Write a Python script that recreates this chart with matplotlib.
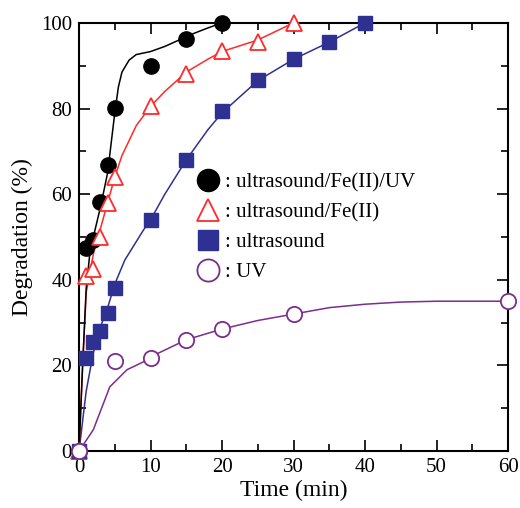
import matplotlib
matplotlib.use("Agg")
import matplotlib.pyplot as plt
from matplotlib.ticker import MultipleLocator

plt.rcParams["font.family"] = ["Liberation Serif", "DejaVu Serif"]

# measured points
t_sfu = [0, 1, 2, 3, 4, 5, 10, 15, 20]
d_sfu = [0, 47.5, 49.3, 58.2, 66.8, 80.1, 90.0, 96.3, 100]
t_sf = [0, 1, 2, 3, 4, 5, 10, 15, 20, 25, 30]
d_sf = [0, 41.0, 42.5, 50.0, 58.0, 64.0, 80.5, 88.0, 93.5, 95.5, 100]
t_s = [0, 1, 2, 3, 4, 5, 10, 15, 20, 25, 30, 35, 40]
d_s = [0, 21.7, 25.5, 28.0, 32.2, 38.0, 54.0, 68.0, 79.5, 86.7, 91.5, 95.5, 100]
t_uv = [0, 5, 10, 15, 20, 30, 60]
d_uv = [0, 21.0, 21.8, 26.0, 28.5, 32.0, 35.0]

# fitted curves
ct_sfu = [0, 0.5, 1, 1.5, 2, 3, 4, 4.5, 5, 5.5, 6, 7, 8, 10, 12, 14, 16, 18, 20]
cd_sfu = [0, 20, 38, 46, 50, 57, 65, 72, 79, 85, 88.5, 91.3, 92.6, 93.3, 94.5, 96, 97.5, 98.8, 100]
ct_sf = [0, 0.5, 1, 2, 3, 4, 5, 6, 8, 10, 12, 15, 18, 20, 25, 30]
cd_sf = [0, 20, 37, 46, 52, 58, 64, 69, 76, 80.5, 84, 88.5, 91.5, 93.3, 96, 100]
ct_s = [0, 1, 2, 3, 4, 5, 6.4, 9, 10, 12, 15, 18, 20, 25, 30, 35, 40]
cd_s = [0, 14, 23, 29, 33.5, 39, 44.6, 51.6, 54, 60, 68, 75, 79, 86.5, 91.5, 95.5, 100]
ct_uv = [0, 2, 4.3, 6.7, 9.2, 10, 15, 20, 25, 30, 35, 40, 45, 50, 60]
cd_uv = [0, 5, 15, 19, 21, 22, 26, 28.5, 30.5, 32, 33.5, 34.3, 34.8, 35, 35]

labels = [": ultrasound/Fe(II)/UV", ": ultrasound/Fe(II)", ": ultrasound", ": UV"]

c_black = "#000000"
c_red = "#FF2A2A"
c_blue = "#2E3192"
c_purple = "#7B2D8E"

fig = plt.figure(figsize=(5.2, 5.08), dpi=100)
ax = fig.add_axes([0.152, 0.112, 0.825, 0.843])

ax.plot(ct_uv, cd_uv, color=c_purple, lw=1.1, zorder=2)
ax.plot(ct_s, cd_s, color=c_blue, lw=1.1, zorder=2)
ax.plot(ct_sf, cd_sf, color=c_red, lw=1.1, zorder=2)
ax.plot(ct_sfu, cd_sfu, color=c_black, lw=1.1, zorder=2)

h1, = ax.plot(t_sfu, d_sfu, "o", color=c_black, ms=11, ls="none", zorder=3, clip_on=False)
h2, = ax.plot(t_sf, d_sf, "^", mfc="white", mec=c_red, mew=1.3, ms=11, ls="none", zorder=3, clip_on=False)
h3, = ax.plot(t_s, d_s, "s", color=c_blue, ms=10, ls="none", zorder=3, clip_on=False)
h4, = ax.plot(t_uv, d_uv, "o", mfc="white", mec=c_purple, mew=1.3, ms=11, ls="none", zorder=4, clip_on=False)

ax.set_xlim(0, 60)
ax.set_ylim(0, 100)
ax.xaxis.set_major_locator(MultipleLocator(10))
ax.xaxis.set_minor_locator(MultipleLocator(5))
ax.yaxis.set_major_locator(MultipleLocator(20))
ax.yaxis.set_minor_locator(MultipleLocator(10))
ax.tick_params(which="both", direction="in", top=True, right=True, labelsize=15, width=1.2)
ax.tick_params(which="major", length=8, pad=5)
ax.tick_params(which="minor", length=5)
for s in ax.spines.values():
    s.set_linewidth(1.5)

ax.set_xlabel("Time (min)", fontsize=17, labelpad=2)
ax.set_ylabel("Degradation (%)", fontsize=17, labelpad=6)

leg = ax.legend([h1, h2, h3, h4], labels, loc="upper left", bbox_to_anchor=(0.253, 0.675),
                frameon=False, fontsize=15, markerscale=1.45, handlelength=1.0,
                handletextpad=0.3, labelspacing=0.5, borderpad=0)

fig.savefig("out.png", dpi=100)
